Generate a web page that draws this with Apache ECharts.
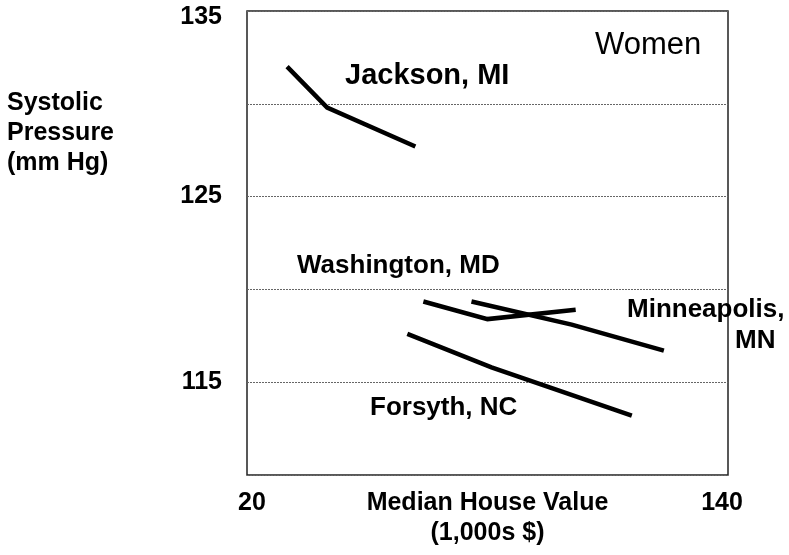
<!DOCTYPE html>
<html>
<head>
<meta charset="utf-8">
<script src="https://cdn.jsdelivr.net/npm/echarts@6/dist/echarts.min.js"></script>
<style>
  html, body { margin: 0; padding: 0; background: #fff; }
  #chart { width: 789px; height: 555px; }
</style>
</head>
<body>
<div id="chart"></div>
<script>
// median house value (1,000s $) vs systolic pressure (mm Hg), women
var jackson = [[30, 132.0], [40, 129.8], [62, 127.7]];
var washington = [[64, 119.35], [80, 118.4], [102, 118.9]];
var minneapolis = [[76, 119.35], [101, 118.1], [124, 116.7]];
var forsyth = [[60, 117.6], [81, 115.8], [116, 113.2]];
var yTickLabels = [115, 125, 135];
var xTickLabels = [20, 140];

var font = "Liberation Sans, Arial, sans-serif";

function lineSeries(name, data) {
  return {
    name: name,
    type: "line",
    data: data,
    symbol: "none",
    silent: true,
    lineStyle: { color: "#000", width: 4.5, cap: "butt", join: "miter" }
  };
}

var myChart = echarts.init(document.getElementById("chart"));
var option = {
  backgroundColor: "#fff",
  animation: false,
  grid: {
    left: 247, top: 11, right: 61, bottom: 80,
    containLabel: false, outerBoundsMode: "none",
    show: true, borderColor: "#222", borderWidth: 1.5
  },
  xAxis: {
    type: "value",
    min: 20, max: 140, interval: 20,
    axisLine: { show: false },
    axisTick: { show: false },
    splitLine: { show: false },
    axisLabel: {
      margin: 16,
      color: "#000", fontFamily: font, fontWeight: "bold", fontSize: 25,
      formatter: function (v) {
        if (v === xTickLabels[0]) return "{l|" + v + "}";
        if (v === xTickLabels[1]) return "{r|" + v + "}";
        return "";
      },
      rich: {
        l: { padding: [0, 0, 0, 10], fontFamily: font, fontWeight: "bold", fontSize: 25 },
        r: { padding: [0, 12, 0, 0], fontFamily: font, fontWeight: "bold", fontSize: 25 }
      }
    },
    name: "Median House Value\n(1,000s $)",
    nameLocation: "middle",
    nameGap: 13,
    nameMoveOverlap: false,
    nameTextStyle: {
      color: "#000", fontFamily: font, fontWeight: "bold", fontSize: 25,
      lineHeight: 30, verticalAlign: "top"
    }
  },
  yAxis: {
    type: "value",
    min: 110, max: 135, interval: 5,
    axisLine: { show: false },
    axisTick: { show: false },
    splitLine: { show: true, lineStyle: { color: "#666", type: [2, 1], width: 1 } },
    axisLabel: {
      margin: 25,
      color: "#000", fontFamily: font, fontWeight: "bold", fontSize: 25,
      formatter: function (v) {
        if (yTickLabels.indexOf(v) < 0) return "";
        return v === 135 ? "{t|" + v + "}" : String(v);
      },
      rich: {
        t: { padding: [12, 0, 0, 0], fontFamily: font, fontWeight: "bold", fontSize: 25 }
      }
    }
  },
  graphic: [
    { type: "text", left: 7, top: 88, style: { text: "Systolic\nPressure\n(mm Hg)", font: "bold 25px " + font, lineHeight: 30, fill: "#000" } },
    { type: "text", left: 595, top: 30, style: { text: "Women", font: "31px " + font, fill: "#000" } },
    { type: "text", left: 345, top: 61, style: { text: "Jackson, MI", font: "bold 29px " + font, fill: "#000" } },
    { type: "text", left: 297, top: 253, style: { text: "Washington, MD", font: "bold 26px " + font, fill: "#000" } },
    { type: "text", left: 627, top: 297, style: { text: "Minneapolis,", font: "bold 26px " + font, fill: "#000" } },
    { type: "text", left: 735, top: 328, style: { text: "MN", font: "bold 26px " + font, fill: "#000" } },
    { type: "text", left: 370, top: 395, style: { text: "Forsyth, NC", font: "bold 26px " + font, fill: "#000" } }
  ],
  series: [
    lineSeries("Jackson, MI", jackson),
    lineSeries("Washington, MD", washington),
    lineSeries("Minneapolis, MN", minneapolis),
    lineSeries("Forsyth, NC", forsyth)
  ]
};
myChart.setOption(option);
</script>
</body>
</html>
